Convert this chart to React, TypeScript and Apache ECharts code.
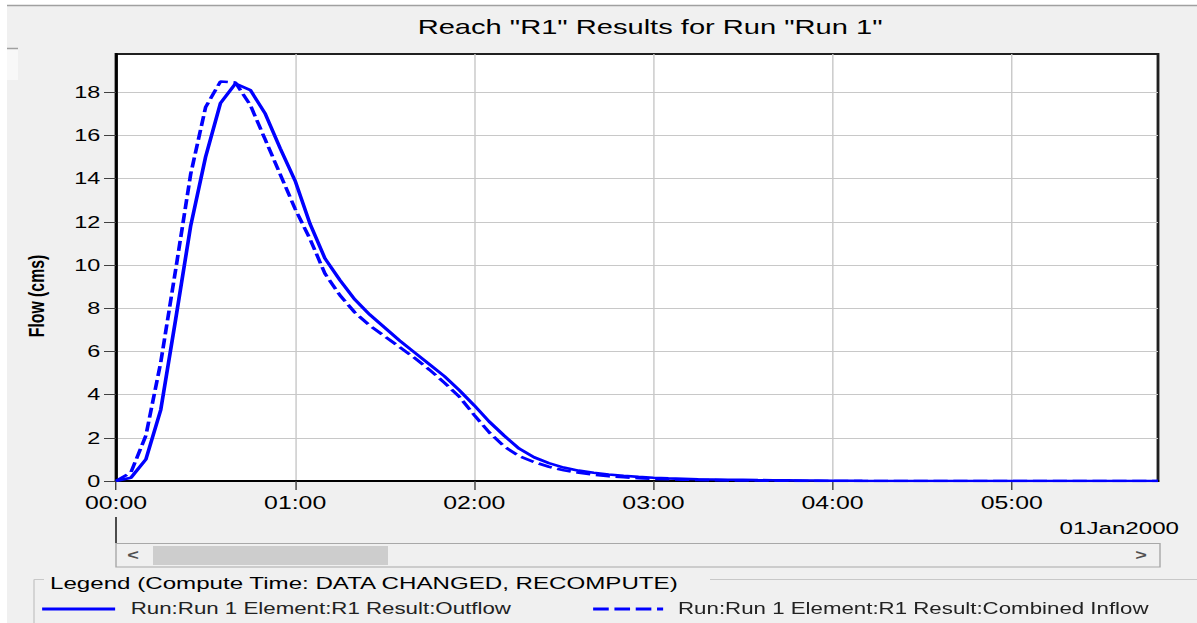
import React, { useEffect, useRef } from "react";
import * as echarts from "echarts";

// horizontal stretch of the original screenshot
const S = 1.42;
const W = 1197;
const H = 623;
const CW = W / S;
const FF = "'Liberation Sans', Arial, sans-serif";

const titleText = 'Reach "R1" Results for Run "Run 1"';
const yAxisName = "Flow (cms)";
const dateLabel = "01Jan2000";
const legendTitle = "Legend (Compute Time: DATA CHANGED, RECOMPUTE)";
const seriesNames = [
  "Run:Run 1 Element:R1 Result:Outflow",
  "Run:Run 1 Element:R1 Result:Combined Inflow",
];

// time in minutes from 00:00 01Jan2000
const timesMin = [
  0, 5, 10, 15, 20, 25, 30, 35, 40, 45, 50, 55, 60, 65, 70, 75, 80, 85, 90, 95,
  100, 105, 110, 115, 120, 125, 130, 135, 140, 145, 150, 155, 160, 165, 170, 175,
  180, 185, 190, 195, 200, 205, 210, 215, 220, 225, 230, 235, 240, 245, 250, 300, 349,
];
const outflow = [
  0, 0.15, 1.0, 3.3, 7.5, 11.8, 15.0, 17.5, 18.4, 18.1, 17.0, 15.4, 13.9, 11.9, 10.3,
  9.3, 8.4, 7.7, 7.1, 6.5, 5.95, 5.4, 4.85, 4.2, 3.5, 2.75, 2.1, 1.5, 1.1, 0.83,
  0.62, 0.48, 0.38, 0.3, 0.24, 0.19, 0.15, 0.12, 0.1, 0.08, 0.07, 0.06, 0.05, 0.04,
  0.035, 0.03, 0.025, 0.02, 0.015, 0.01, 0.005, 0, 0,
];
const combinedInflow = [
  0, 0.4, 2.1, 5.5, 9.8, 14.2, 17.3, 18.5, 18.45, 17.4, 15.8, 14.2, 12.6, 11.2, 9.6,
  8.6, 7.8, 7.2, 6.7, 6.2, 5.7, 5.15, 4.55, 3.9, 3.05, 2.25, 1.6, 1.15, 0.88, 0.66,
  0.5, 0.38, 0.29, 0.22, 0.17, 0.13, 0.1, 0.08, 0.06, 0.05, 0.04, 0.03, 0.025, 0.02,
  0.015, 0.01, 0.005, 0, 0, 0, 0, 0, 0,
];

const xTickValues = [0, 60, 120, 180, 240, 300];
const xTickLabels = ["00:00", "01:00", "02:00", "03:00", "04:00", "05:00"];
const yTickValues = [0, 2, 4, 6, 8, 10, 12, 14, 16, 18];

const px = (x: number) => x / S;

export default function App() {
  const ref = useRef<HTMLDivElement>(null);
  useEffect(() => {
    if (!ref.current) return;
    const chart = echarts.init(ref.current, null, { renderer: "svg", width: CW, height: H });
    const option: any = {
      animation: false,
      backgroundColor: "#f0f0f0",
      title: {
        text: titleText,
        left: px(643),
        top: 11,
        textAlign: "center",
        textStyle: { fontFamily: FF, fontSize: 20.5, fontWeight: "normal", color: "#000" },
      },
      grid: {
        left: px(116),
        top: 54,
        width: px(1042),
        height: 427,
        show: true,
        backgroundColor: "#ffffff",
        borderColor: "#202020",
        borderWidth: 2,
      },
      legend: [
        {
          data: [seriesNames[0]],
          left: px(40),
          top: 601,
          padding: 0,
          itemWidth: px(73),
          itemHeight: 14,
          lineStyle: { width: 3 },
          itemStyle: { opacity: 0 },
          textStyle: { fontFamily: FF, fontSize: 15.7, color: "#222", padding: [0, 0, 0, 6] },
        },
        {
          data: [seriesNames[1]],
          left: px(591),
          top: 601,
          padding: 0,
          itemWidth: px(70),
          itemHeight: 14,
          lineStyle: { width: 3, type: [11, 4] },
          itemStyle: { opacity: 0 },
          textStyle: { fontFamily: FF, fontSize: 15.7, color: "#222", padding: [0, 0, 0, 5.5] },
        },
      ],
      xAxis: {
        type: "value",
        min: 0,
        max: 349,
        interval: 60,
        axisLine: { show: true, onZero: false, lineStyle: { color: "#000", width: 2 } },
        axisTick: {
          show: true,
          length: 9,
          customValues: xTickValues,
          lineStyle: { color: "#404040", width: 1 },
        },
        axisLabel: {
          customValues: xTickValues,
          formatter: (v: number) => {
            const i = xTickValues.indexOf(v);
            return i >= 0 ? xTickLabels[i] : "";
          },
          fontFamily: FF,
          fontSize: 17.5,
          color: "#000",
          margin: 13,
        },
        splitLine: { show: true, lineStyle: { color: "#c8c8c8", width: 1 } },
      },
      yAxis: {
        type: "value",
        min: 0,
        max: 19.77,
        interval: 2,
        axisLine: { show: true, lineStyle: { color: "#000", width: 2 } },
        axisTick: {
          show: true,
          length: px(12),
          customValues: yTickValues,
          lineStyle: { color: "#404040", width: 1 },
        },
        axisLabel: {
          customValues: yTickValues,
          fontFamily: FF,
          fontSize: 16.5,
          color: "#000",
          margin: 11,
        },
        splitLine: { show: true, lineStyle: { color: "#c8c8c8", width: 1 } },
      },
      series: [
        {
          name: seriesNames[0],
          type: "line",
          data: timesMin.map((t, i) => [t, outflow[i]]),
          symbol: "none",
          showSymbol: false,
          lineStyle: { color: "#0000ff", width: 2.6 },
          itemStyle: { color: "#0000ff" },
          z: 3,
        },
        {
          name: seriesNames[1],
          type: "line",
          data: timesMin.map((t, i) => [t, combinedInflow[i]]),
          symbol: "none",
          showSymbol: false,
          lineStyle: { color: "#0000ff", width: 2.6, type: [10, 4] },
          itemStyle: { color: "#0000ff" },
          z: 3,
        },
      ],
      graphic: [
        { type: "rect", shape: { x: 0, y: 0, width: CW, height: 5 }, style: { fill: "#ffffff" }, silent: true },
        { type: "rect", shape: { x: 0, y: 0, width: px(7), height: H }, style: { fill: "#ffffff" }, silent: true },
        { type: "line", shape: { x1: px(7), y1: 5.5, x2: CW, y2: 5.5 }, style: { stroke: "#a0a0a0", lineWidth: 1.5 }, silent: true },
        { type: "rect", shape: { x: px(7), y: 48, width: px(11), height: 32 }, style: { fill: "#f8f8f8" }, silent: true },
        { type: "line", shape: { x1: px(7), y1: 48.5, x2: px(18), y2: 48.5 }, style: { stroke: "#a0a0a0", lineWidth: 1.5 }, silent: true },
        {
          type: "text",
          x: px(36),
          y: 296,
          rotation: Math.PI / 2,
          style: { text: yAxisName, font: `bold 15.8px ${FF}`, fill: "#000", align: "center", verticalAlign: "middle" },
          silent: true,
        },
        { type: "line", shape: { x1: px(116), y1: 517, x2: px(116), y2: 543 }, style: { stroke: "#303030", lineWidth: 1.2 }, silent: true },
        {
          type: "text",
          x: px(1179),
          y: 528,
          style: { text: dateLabel, font: `17px ${FF}`, fill: "#000", align: "right", verticalAlign: "middle" },
          silent: true,
        },
        { type: "rect", shape: { x: px(116), y: 543.5, width: px(1044), height: 23.5 }, style: { fill: "#f0f0f0", stroke: "#a8a8a8", lineWidth: 1 }, silent: true },
        { type: "rect", shape: { x: px(153), y: 546, width: px(235), height: 19 }, style: { fill: "#cdcdcd" }, silent: true },
        {
          type: "text",
          x: px(133),
          y: 555,
          style: { text: "<", font: `bold 14px ${FF}`, fill: "#505050", align: "center", verticalAlign: "middle" },
          silent: true,
        },
        {
          type: "text",
          x: px(1141),
          y: 555,
          style: { text: ">", font: `bold 14px ${FF}`, fill: "#505050", align: "center", verticalAlign: "middle" },
          silent: true,
        },
        { type: "line", shape: { x1: px(34), y1: 579.5, x2: px(44), y2: 579.5 }, style: { stroke: "#c8c8c8", lineWidth: 1 }, silent: true },
        { type: "line", shape: { x1: px(710), y1: 579.5, x2: CW, y2: 579.5 }, style: { stroke: "#c8c8c8", lineWidth: 1 }, silent: true },
        { type: "line", shape: { x1: px(34), y1: 579.5, x2: px(34), y2: H }, style: { stroke: "#c8c8c8", lineWidth: 1 }, silent: true },
        {
          type: "text",
          x: px(50),
          y: 583,
          style: { text: legendTitle, font: `17px ${FF}`, fill: "#000", align: "left", verticalAlign: "middle" },
          silent: true,
        },
      ],
    };
    chart.setOption(option);
    return () => chart.dispose();
  }, []);
  return (
    <div
      style={{
        position: "absolute",
        left: 0,
        top: 0,
        width: W,
        height: H,
        overflow: "hidden",
        background: "#f0f0f0",
      }}
    >
      <div
        ref={ref}
        style={{ width: CW, height: H, transform: `scaleX(${S})`, transformOrigin: "0 0" }}
      />
    </div>
  );
}
